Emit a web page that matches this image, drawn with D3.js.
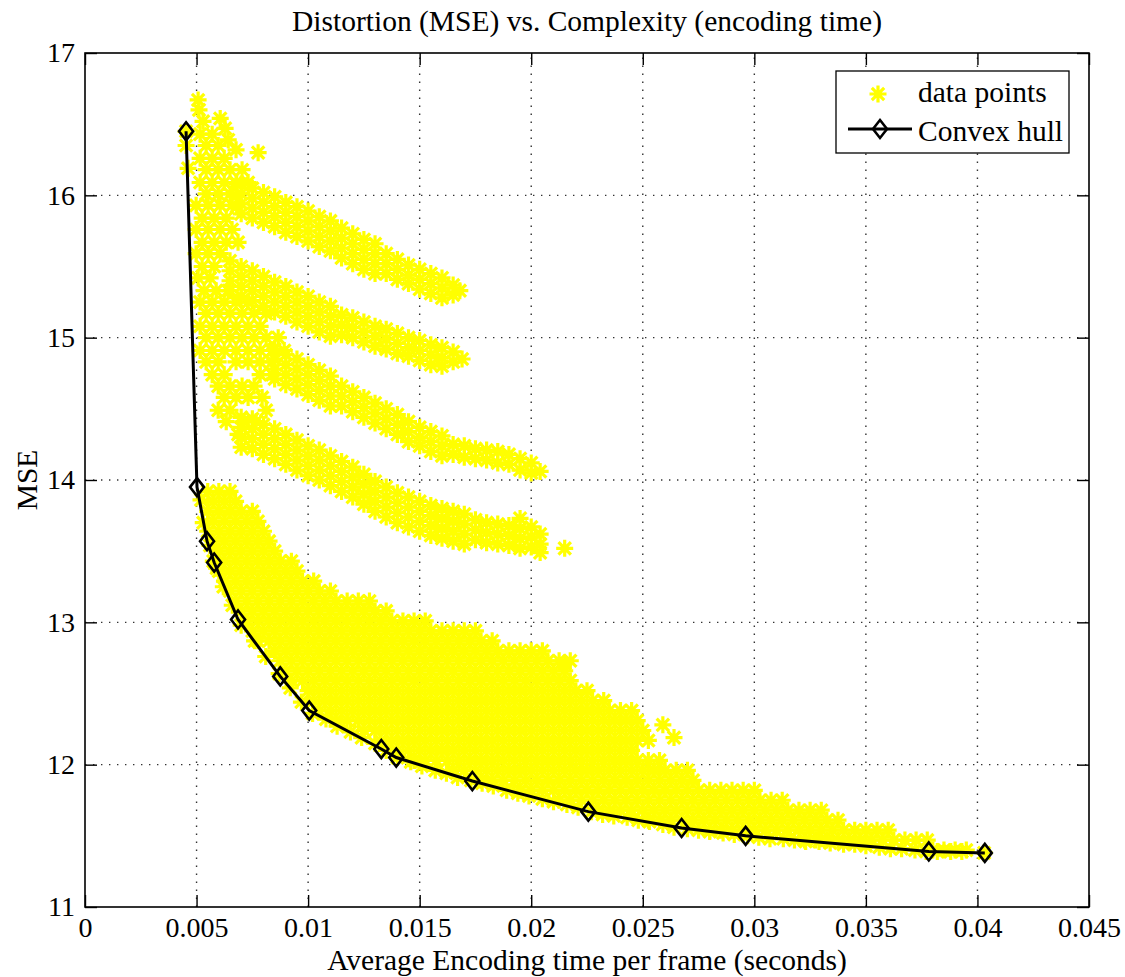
<!DOCTYPE html>
<html><head><meta charset="utf-8">
<script src="https://cdn.jsdelivr.net/npm/d3@7"></script>
<style>
body{margin:0;background:#fff}
svg{display:block}
text{font-family:"Liberation Serif","Times New Roman",serif;fill:#000}
</style>
</head><body>
<svg id="chart" width="1125" height="977"></svg>
<script>
// ---------------- data (x in seconds, y = MSE) ----------------
const chartTitle = "Distortion (MSE) vs. Complexity (encoding time)";
const xLabel = "Average Encoding time per frame (seconds)";
const yLabel = "MSE";
const xTickValues = [0,0.005,0.01,0.015,0.02,0.025,0.03,0.035,0.04,0.045];
const xTickLabels = ["0","0.005","0.01","0.015","0.02","0.025","0.03","0.035","0.04","0.045"];
const yTickValues = [11,12,13,14,15,16,17];
const yTickLabels = ["11","12","13","14","15","16","17"];
const legendLabels = ["data points","Convex hull"];

// convex hull vertices
const hullX = [0.00453,0.00502,0.00547,0.00579,0.00686,0.00875,0.01005,0.01328,0.01395,0.01736,0.02256,0.02674,0.02961,0.03782,0.04033];
const hullY = [16.45,13.95,13.57,13.42,13.02,12.62,12.38,12.11,12.05,11.885,11.67,11.555,11.50,11.39,11.38];

// data points lying along the lower frontier
const frontierPoints = [[.00453,16.45],[.0052,13.86],[.0053,13.70],[.0056,13.54],[.0059,13.38],[.0062,13.25],[.0066,13.12],[.0070,12.98],[.0076,12.87],[.0081,12.76],[.0087,12.64],[.0092,12.54],[.0097,12.44],[.0102,12.36],[.0108,12.32],[.0113,12.27],[.0119,12.23],[.0124,12.19],[.0130,12.15],[.0135,12.10],[.0140,12.05],[.0146,12.02],[.0151,11.99],[.0157,11.96],[.0162,11.94],[.0167,11.91],[.0173,11.89],[.0178,11.87],[.0183,11.85],[.0189,11.82],[.0194,11.80],[.0199,11.78],[.0205,11.76],[.0210,11.74],[.0216,11.72],[.0221,11.70],[.0227,11.67],[.0232,11.65],[.0237,11.64],[.0243,11.63],[.0248,11.61],[.0253,11.60],[.0259,11.58],[.0264,11.56],[.0270,11.55],[.0275,11.54],[.0280,11.53],[.0286,11.52],[.0291,11.51],[.0297,11.50],[.0302,11.49],[.0307,11.48],[.0313,11.48],[.0318,11.47],[.0323,11.46],[.0329,11.46],[.0334,11.45],[.0340,11.44],[.0345,11.44],[.0350,11.43],[.0356,11.42],[.0361,11.41],[.0366,11.41],[.0372,11.40],[.0377,11.39],[.0382,11.39],[.0388,11.39],[.0393,11.39],[.0403,11.38]];

// top-left cluster
const topCluster = [[.00507,16.67],[.00511,16.60],[.00606,16.54],[.00529,16.52],[.00628,16.47],[.00516,16.43],[.00570,16.43],[.00642,16.39],[.00543,16.35],[.00597,16.35],[.00677,16.32],[.00776,16.30],[.00516,16.26],[.00570,16.26],[.00624,16.26],[.00543,16.18],[.00597,16.18],[.00650,16.18],[.00704,16.18],[.00516,16.09],[.00570,16.09],[.00624,16.09],[.00677,16.09],[.00731,16.09],[.00543,16.01],[.00597,16.01],[.00650,16.01],[.00453,16.35],[.00462,16.19]];

// left cluster between the stripes
const leftCluster = [[.00498,15.93],[.00552,15.93],[.00606,15.93],[.00659,15.93],[.00525,15.84],[.00579,15.84],[.00633,15.84],[.00498,15.76],[.00552,15.76],[.00606,15.76],[.00659,15.76],[.00525,15.67],[.00579,15.67],[.00633,15.67],[.00686,15.67],[.00498,15.59],[.00552,15.59],[.00606,15.59],[.00525,15.50],[.00579,15.50],[.00507,15.42],[.00561,15.42],[.00534,15.33],[.00588,15.33],[.00642,15.33],[.00516,15.25],[.00570,15.25],[.00624,15.25],[.00677,15.25],[.00731,15.25],[.00543,15.17],[.00597,15.17],[.00650,15.17],[.00704,15.17],[.00758,15.17],[.00812,15.17],[.00516,15.08],[.00570,15.08],[.00624,15.08],[.00677,15.08],[.00731,15.08],[.00785,15.08],[.00543,15.00],[.00597,15.00],[.00650,15.00],[.00704,15.00],[.00758,15.00],[.00812,15.00],[.00866,15.00],[.00516,14.91],[.00570,14.91],[.00624,14.91],[.00677,14.91],[.00731,14.91],[.00785,14.91],[.00839,14.91],[.00893,14.91],[.00543,14.83],[.00597,14.83],[.00677,14.83],[.00731,14.83],[.00785,14.83],[.00839,14.83],[.00570,14.74],[.00624,14.74],[.00785,14.74],[.00839,14.74],[.00597,14.66],[.00650,14.66],[.00704,14.66],[.00758,14.66],[.00624,14.58],[.00677,14.58],[.00731,14.58],[.00794,14.58],[.00597,14.49],[.00650,14.49],[.00812,14.49],[.00633,14.41],[.00713,14.41],[.00767,14.41],[.00686,14.32]];

// stripes, read as columns: [encoding time, [MSE values]]
const stripeA = [
 [.0068,[16.08,16.00,15.92]],[.0070,[16.08,16.01,15.94,15.87]],[.0075,[16.05,15.98,15.91,15.84]],[.0080,[16.02,15.95,15.88,15.81]],
 [.0085,[15.99,15.92,15.85,15.78]],[.0090,[15.95,15.88,15.81,15.74]],[.0095,[15.92,15.85,15.78,15.71]],[.0100,[15.89,15.82,15.75,15.68]],
 [.0105,[15.85,15.78,15.71,15.64]],[.0110,[15.82,15.75,15.68,15.61]],[.0115,[15.77,15.70,15.63,15.56]],[.0120,[15.73,15.66,15.59,15.52]],
 [.0125,[15.69,15.62,15.55,15.48]],[.0130,[15.66,15.59,15.52,15.45]],[.0135,[15.59,15.52,15.45]],[.0140,[15.55,15.48,15.41]],
 [.0145,[15.51,15.44,15.38]],[.0150,[15.48,15.41,15.34]],[.0155,[15.45,15.38,15.31]],[.0160,[15.42,15.35,15.28]],
 [.0165,[15.37,15.30]],[.0168,[15.33]]
];
const stripeB = [
 [.0065,[15.54,15.47,15.40,15.33]],[.0070,[15.50,15.43,15.36,15.29]],[.0075,[15.47,15.40,15.33,15.26]],[.0080,[15.43,15.36,15.29,15.22]],
 [.0085,[15.39,15.32,15.25,15.18]],[.0090,[15.36,15.29,15.22,15.15]],[.0095,[15.32,15.25,15.18,15.11]],[.0100,[15.29,15.22,15.15,15.08]],
 [.0105,[15.25,15.18,15.11,15.04]],[.0110,[15.22,15.15,15.08,15.01]],[.0115,[15.16,15.09,15.02]],[.0120,[15.14,15.07,15.00]],
 [.0125,[15.11,15.04,14.97]],[.0130,[15.08,15.01,14.94]],[.0135,[15.06,14.99,14.92]],[.0140,[15.03,14.96,14.89]],
 [.0145,[15.00,14.93,14.87]],[.0150,[14.98,14.91,14.84]],[.0155,[14.95,14.88,14.81]],[.0160,[14.93,14.86,14.80]],
 [.0165,[14.90,14.83]],[.0169,[14.85]]
];
const stripeC = [
 [.0085,[14.92,14.85,14.78,14.71]],[.0090,[14.88,14.81,14.74,14.67]],[.0095,[14.85,14.78,14.71,14.64]],[.0100,[14.81,14.74,14.67,14.60]],
 [.0105,[14.77,14.70,14.63,14.56]],[.0110,[14.73,14.66,14.59,14.52]],[.0115,[14.66,14.59,14.52]],[.0120,[14.62,14.55,14.48]],
 [.0125,[14.58,14.51,14.44]],[.0130,[14.54,14.47,14.40]],[.0135,[14.50,14.43,14.36]],[.0140,[14.46,14.39,14.32]],
 [.0145,[14.41,14.34,14.27]],[.0150,[14.37,14.30,14.24]],[.0155,[14.34,14.27,14.20]],[.0160,[14.31,14.24,14.17]],
 [.0165,[14.25,14.18]],[.0170,[14.24,14.16]],[.0175,[14.22,14.15]],[.0180,[14.21,14.14]],[.0185,[14.20,14.12]],
 [.0190,[14.18,14.11]],[.0195,[14.15,14.07]],[.0200,[14.12,14.05]],[.0204,[14.06]]
];
const stripeD = [
 [.0070,[14.44,14.37,14.30,14.23]],[.0075,[14.43,14.36,14.29,14.22]],[.0080,[14.39,14.32,14.25,14.18]],[.0085,[14.36,14.29,14.22,14.15]],
 [.0090,[14.32,14.25,14.18,14.11]],[.0095,[14.28,14.21,14.14,14.07]],[.0100,[14.24,14.17,14.10,14.03]],[.0105,[14.21,14.14,14.07,14.00]],
 [.0110,[14.17,14.10,14.03,13.96]],[.0115,[14.13,14.06,13.99,13.92]],[.0120,[14.09,14.02,13.95,13.88]],[.0125,[14.04,13.97,13.90,13.83]],
 [.0130,[13.99,13.92,13.85,13.78]],[.0135,[13.95,13.88,13.81,13.74]],[.0140,[13.91,13.84,13.77,13.70]],[.0145,[13.88,13.81,13.74,13.67]],
 [.0150,[13.85,13.78,13.71,13.64]],[.0155,[13.82,13.75,13.68,13.61]],[.0160,[13.80,13.73,13.66,13.59]],[.0165,[13.78,13.71,13.64,13.57]],
 [.0170,[13.76,13.69,13.62,13.55]],[.0175,[13.72,13.65,13.58]],[.0180,[13.70,13.63,13.56]],[.0185,[13.69,13.62,13.55]],
 [.0190,[13.68,13.61,13.54]],[.0195,[13.73,13.66,13.59,13.52]],[.0200,[13.67,13.60,13.53]],[.0204,[13.62,13.55,13.49]],
 [.0215,[13.52]]
];

// scattered single points
const strayPoints = [[.0259,12.28],[.0264,12.19],[.0215,12.71]];

// dense lower fan, read as rows of equal MSE: [MSE, [encoding times]]
const fanRows = [
 [11.40,[.0380,.0385,.0390,.0395]],
 [11.47,[.03225,.03275,.03325,.03375,.03425,.03475,.03525,.03575,.03625,.03675,.03725,.03775]],
 [11.54,[.0280,.0285,.0290,.0295,.0300,.0305,.0310,.0315,.0320,.0325,.0330,.0335,.0340,.0345,.0350,.0355,.0360]],
 [11.61,[.02525,.02575,.02625,.02675,.02725,.02775,.02825,.02875,.02925,.02975,.03025,.03075,.03125,.03175,.03225,.03275,.03325,.03375]],
 [11.68,[.0230,.0235,.0240,.0245,.0250,.0255,.0260,.0265,.0270,.0275,.0280,.0285,.0290,.0295,.0300,.0305,.0310,.0315,.0320,.0325,.0330]],
 [11.75,[.02125,.02175,.02225,.02275,.02325,.02375,.02425,.02475,.02525,.02575,.02625,.02675,.02725,.02775,.02825,.02875,.02925,.02975,.03025,.03075,.03125]],
 [11.82,[.0195,.0200,.0205,.0210,.0215,.0220,.0225,.0230,.0235,.0240,.0245,.0250,.0255,.0260,.0265,.0270,.0275,.0280,.0285,.0290,.0295,.0300]],
 [11.89,[.01775,.01825,.01875,.01925,.01975,.02025,.02075,.02125,.02175,.02225,.02275,.02325,.02375,.02425,.02475,.02525,.02575,.02625,.02675,.02725]],
 [11.96,[.0165,.0170,.0175,.0180,.0185,.0190,.0195,.0200,.0205,.0210,.0215,.0220,.0225,.0230,.0235,.0240,.0245,.0250,.0255,.0260,.0265,.0270]],
 [12.03,[.01475,.01525,.01575,.01625,.01675,.01725,.01775,.01825,.01875,.01925,.01975,.02025,.02075,.02125,.02175,.02225,.02275,.02325,.02375,.02425,.02475,.02525,.02575]],
 [12.10,[.0140,.0145,.0150,.0155,.0160,.0165,.0170,.0175,.0180,.0185,.0190,.0195,.0200,.0205,.0210,.0215,.0220,.0225,.0230,.0235,.0240,.0245]],
 [12.17,[.01325,.01375,.01425,.01475,.01525,.01575,.01625,.01675,.01725,.01775,.01825,.01875,.01925,.01975,.02025,.02075,.02125,.02175,.02225,.02275,.02325,.02375,.02425,.02475,.02525]],
 [12.24,[.0125,.0130,.0135,.0140,.0145,.0150,.0155,.0160,.0165,.0170,.0175,.0180,.0185,.0190,.0195,.0200,.0205,.0210,.0215,.0220,.0225,.0230,.0235,.0240,.0245,.0250]],
 [12.31,[.01125,.01175,.01225,.01275,.01325,.01375,.01425,.01475,.01525,.01575,.01625,.01675,.01725,.01775,.01825,.01875,.01925,.01975,.02025,.02075,.02125,.02175,.02225,.02275,.02325,.02375,.02425,.02475]],
 [12.38,[.0105,.0110,.0115,.0120,.0125,.0130,.0135,.0140,.0145,.0150,.0155,.0160,.0165,.0170,.0175,.0180,.0185,.0190,.0195,.0200,.0205,.0210,.0215,.0220,.0225,.0230,.0235,.0240,.0245]],
 [12.45,[.01025,.01075,.01125,.01175,.01225,.01275,.01325,.01375,.01425,.01475,.01525,.01575,.01625,.01675,.01725,.01775,.01825,.01875,.01925,.01975,.02025,.02075,.02125,.02175,.02225,.02275,.02325]],
 [12.52,[.0100,.0105,.0110,.0115,.0120,.0125,.0130,.0135,.0140,.0145,.0150,.0155,.0160,.0165,.0170,.0175,.0180,.0185,.0190,.0195,.0200,.0205,.0210,.0215,.0220,.0225]],
 [12.59,[.00925,.00975,.01025,.01075,.01125,.01175,.01225,.01275,.01325,.01375,.01425,.01475,.01525,.01575,.01625,.01675,.01725,.01775,.01825,.01875,.01925,.01975,.02025,.02075,.02125,.02175]],
 [12.66,[.0090,.0095,.0100,.0105,.0110,.0115,.0120,.0125,.0130,.0135,.0140,.0145,.0150,.0155,.0160,.0165,.0170,.0175,.0180,.0185,.0190,.0195,.0200,.0205,.0210,.0215]],
 [12.73,[.00875,.00925,.00975,.01025,.01075,.01125,.01175,.01225,.01275,.01325,.01375,.01425,.01475,.01525,.01575,.01625,.01675,.01725,.01775,.01825,.01875,.01925,.01975,.02025,.02075,.02125,.02175]],
 [12.80,[.0085,.0090,.0095,.0100,.0105,.0110,.0115,.0120,.0125,.0130,.0135,.0140,.0145,.0150,.0155,.0160,.0165,.0170,.0175,.0180,.0185,.0190,.0195,.0200,.0205]],
 [12.87,[.00775,.00825,.00875,.00925,.00975,.01025,.01075,.01125,.01175,.01225,.01275,.01325,.01375,.01425,.01475,.01525,.01575,.01625,.01675,.01725,.01775,.01825]],
 [12.94,[.0075,.0080,.0085,.0090,.0095,.0100,.0105,.0110,.0115,.0120,.0125,.0130,.0135,.0140,.0145,.0150,.0155,.0160,.0165,.0170,.0175]],
 [13.01,[.00725,.00775,.00825,.00875,.00925,.00975,.01025,.01075,.01125,.01175,.01225,.01275,.01325,.01375,.01425,.01475,.01525]],
 [13.08,[.0070,.0075,.0080,.0085,.0090,.0095,.0100,.0105,.0110,.0115,.0120,.0125,.0130,.0135]],
 [13.15,[.00675,.00725,.00775,.00825,.00875,.00925,.00975,.01025,.01075,.01125,.01175,.01225,.01275]],
 [13.22,[.0065,.0070,.0075,.0080,.0085,.0090,.0095,.0100,.0105,.0110]],
 [13.29,[.00625,.00675,.00725,.00775,.00825,.00875,.00925,.00975,.01025]],
 [13.36,[.0060,.0065,.0070,.0075,.0080,.0085,.0090,.0095]],
 [13.43,[.00575,.00625,.00675,.00725,.00775,.00825,.00875,.00925]],
 [13.50,[.0060,.0065,.0070,.0075,.0080,.0085]],
 [13.57,[.00575,.00625,.00675,.00725,.00775,.00825]],
 [13.64,[.0055,.0060,.0065,.0070,.0075,.0080]],
 [13.71,[.00575,.00625,.00675,.00725,.00775]],
 [13.78,[.0055,.0060,.0065,.0070,.0075]],
 [13.85,[.00575,.00625,.00675]],
 [13.92,[.0055,.0060,.0065]]
];

// ---------------- drawing ----------------
const svg = d3.select("#chart");
const pLeft = 85, pRight = 1089, pTop = 53, pBottom = 907;
const x = d3.scaleLinear().domain([0, 0.045]).range([pLeft, pRight]);
const y = d3.scaleLinear().domain([11, 17]).range([pBottom, pTop]);
const TICKFONT = 28, LABELFONT = 29.5;

// grid (beneath data)
const grid = svg.append("g").attr("stroke", "#333").attr("stroke-width", 1.4).attr("stroke-dasharray", "1.4,6.6");
grid.selectAll("line.gx").data(xTickValues.slice(1, -1)).join("line").attr("class", "gx")
  .attr("x1", d => x(d)).attr("x2", d => x(d)).attr("y1", pBottom).attr("y2", pTop);
grid.selectAll("line.gy").data(yTickValues.slice(1, -1)).join("line").attr("class", "gy")
  .attr("x1", pLeft).attr("x2", pRight).attr("y1", d => y(d)).attr("y2", d => y(d));

// gather scatter points
const allPoints = [].concat(frontierPoints, topCluster, leftCluster, strayPoints);
[stripeA, stripeB, stripeC, stripeD].forEach(s => s.forEach(([t, ys]) => ys.forEach(v => allPoints.push([t, v]))));
fanRows.forEach(([mse, xs]) => xs.forEach(t => allPoints.push([t, mse])));

const starPath = "M-8.5,0H8.5M0,-8.5V8.5M-6.2,-6.2L6.2,6.2M-6.2,6.2L6.2,-6.2";
svg.append("clipPath").attr("id", "plotclip").append("rect")
  .attr("x", pLeft).attr("y", pTop).attr("width", pRight - pLeft).attr("height", pBottom - pTop);

svg.append("g").attr("clip-path", "url(#plotclip)")
  .selectAll("path").data(allPoints).join("path")
  .attr("d", starPath)
  .attr("transform", d => `translate(${x(d[0])},${y(d[1])})`)
  .attr("fill", "none").attr("stroke", "#ffff00").attr("stroke-width", 3.2);

// convex hull line
const hull = hullX.map((v, i) => [v, hullY[i]]);
svg.append("path").datum(hull)
  .attr("d", d3.line().x(d => x(d[0])).y(d => y(d[1])))
  .attr("fill", "none").attr("stroke", "#000").attr("stroke-width", 3);
const diamondPath = "M0,-9L7,0L0,9L-7,0Z";
svg.append("g").selectAll("path").data(hull).join("path")
  .attr("d", diamondPath)
  .attr("transform", d => `translate(${x(d[0])},${y(d[1])})`)
  .attr("fill", "none").attr("stroke", "#000").attr("stroke-width", 2.6);

// axes
function styleAxis(g) {
  g.select(".domain").remove();
  g.selectAll(".tick line").attr("stroke", "#000").attr("stroke-width", 1.4);
  g.selectAll("text").style("font-family", '"Liberation Serif","Times New Roman",serif')
    .style("font-size", TICKFONT + "px").attr("fill", "#000");
}
svg.append("g").attr("transform", `translate(0,${pBottom})`)
  .call(d3.axisBottom(x).tickValues(xTickValues).tickFormat((d, i) => xTickLabels[i]).tickSizeInner(-12).tickSizeOuter(0).tickPadding(10))
  .call(styleAxis);
svg.append("g").attr("transform", `translate(${pLeft},0)`)
  .call(d3.axisLeft(y).tickValues(yTickValues).tickFormat((d, i) => yTickLabels[i]).tickSizeInner(-12).tickSizeOuter(0).tickPadding(10))
  .call(styleAxis);
svg.append("g").attr("transform", `translate(0,${pTop})`)
  .call(d3.axisTop(x).tickValues(xTickValues).tickFormat("").tickSizeInner(-12).tickSizeOuter(0))
  .call(styleAxis);
svg.append("g").attr("transform", `translate(${pRight},0)`)
  .call(d3.axisRight(y).tickValues(yTickValues).tickFormat("").tickSizeInner(-12).tickSizeOuter(0))
  .call(styleAxis);

// frame
svg.append("rect").attr("x", pLeft).attr("y", pTop).attr("width", pRight - pLeft).attr("height", pBottom - pTop)
  .attr("fill", "none").attr("stroke", "#000").attr("stroke-width", 1.6);

// titles
svg.append("text").attr("x", (pLeft + pRight) / 2).attr("y", 31).attr("text-anchor", "middle")
  .style("font-size", LABELFONT + "px").text(chartTitle);
svg.append("text").attr("x", (pLeft + pRight) / 2).attr("y", 970).attr("text-anchor", "middle")
  .style("font-size", LABELFONT + "px").text(xLabel);
svg.append("text").attr("transform", `translate(37,${(pTop + pBottom) / 2}) rotate(-90)`).attr("text-anchor", "middle")
  .style("font-size", LABELFONT + "px").text(yLabel);

// legend
const lg = svg.append("g");
lg.append("rect").attr("x", 836).attr("y", 71).attr("width", 233).attr("height", 82)
  .attr("fill", "#fff").attr("stroke", "#000").attr("stroke-width", 1.3);
lg.append("path").attr("d", starPath).attr("transform", "translate(878,94)")
  .attr("fill", "none").attr("stroke", "#ffff00").attr("stroke-width", 3.2);
lg.append("line").attr("x1", 848).attr("x2", 912).attr("y1", 129).attr("y2", 129)
  .attr("stroke", "#000").attr("stroke-width", 3);
lg.append("path").attr("d", diamondPath).attr("transform", "translate(880,129)")
  .attr("fill", "none").attr("stroke", "#000").attr("stroke-width", 2.6);
lg.append("text").attr("x", 918).attr("y", 102).style("font-size", LABELFONT + "px").text(legendLabels[0]);
lg.append("text").attr("x", 918).attr("y", 141).style("font-size", LABELFONT + "px").text(legendLabels[1]);
</script>
</body></html>
